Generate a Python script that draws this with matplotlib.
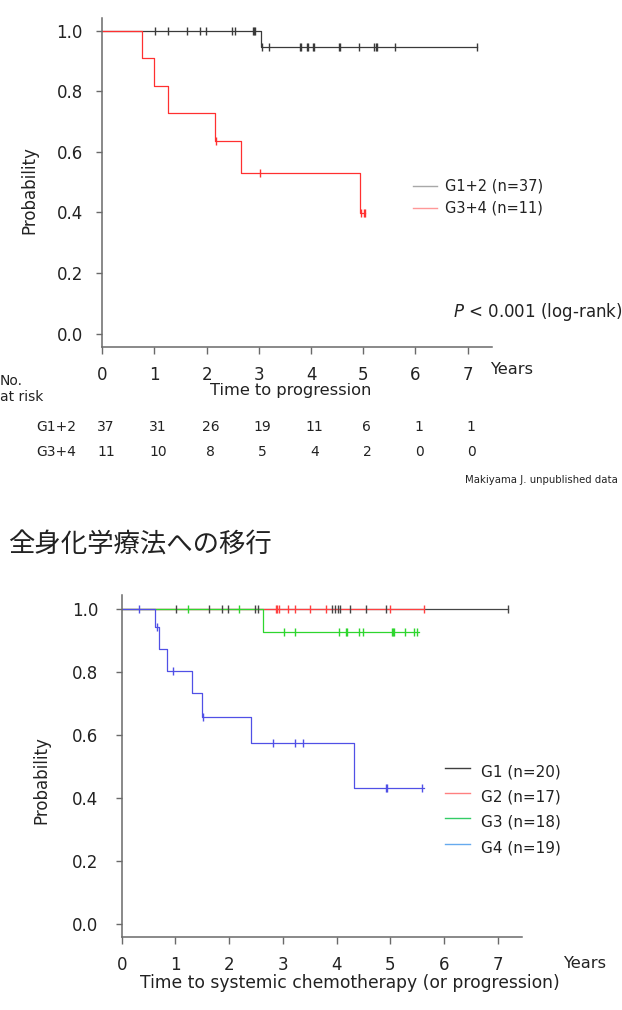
import numpy as np
import matplotlib
matplotlib.use("Agg")
import matplotlib.pyplot as plt
from matplotlib.lines import Line2D
from matplotlib.transforms import blended_transform_factory

plt.rcParams["font.family"] = ["DejaVu Sans", "Noto Sans CJK JP"]

W, H = 622, 1010

# ---------------- top panel data ----------------
top_years = [0, 1, 2, 3, 4, 5, 6, 7]
top_yticks = [0.0, 0.2, 0.4, 0.6, 0.8, 1.0]

g12_events = [3.05]
g12_levels = [0.945]
g12_end = 7.17
g12_censor = [1.01, 1.25, 1.63, 1.87, 1.99, 2.48, 2.54, 2.88, 2.90, 2.92,
              3.06, 3.19, 3.79, 3.81, 3.93, 3.95, 4.03, 4.06, 4.54, 4.55,
              4.92, 5.21, 5.24, 5.26, 5.61, 7.17]

g34_events = [0.77, 1.00, 1.25, 2.16, 2.66, 4.94]
g34_levels = [0.909, 0.818, 0.727, 0.636, 0.529, 0.397]
g34_end = 5.04
g34_censor = [2.18, 3.03, 4.96, 5.01, 5.04]

risk_labels = ["G1+2", "G3+4"]
risk_g12 = [37, 31, 26, 19, 11, 6, 1, 1]
risk_g34 = [11, 10, 8, 5, 4, 2, 0, 0]

top_legend = ["G1+2 (n=37)", "G3+4 (n=11)"]

# ---------------- bottom panel data ----------------
g1_events = []
g1_levels = []
g1_end = 7.19
g1_censor = [1.01, 1.63, 1.86, 1.98, 2.48, 2.53, 3.92, 3.97, 4.02, 4.07,
             4.25, 4.55, 4.92, 7.19]

g2_events = []
g2_levels = []
g2_end = 5.62
g2_censor = [2.88, 2.90, 2.92, 3.10, 3.22, 3.51, 3.80, 5.00, 5.62]

g3_events = [2.64]
g3_levels = [0.927]
g3_end = 5.54
g3_censor = [1.24, 2.19, 3.02, 3.22, 4.05, 4.18, 4.20, 4.41, 4.50, 5.03,
             5.05, 5.07, 5.27, 5.45, 5.49]

g4_events = [0.62, 0.69, 0.85, 1.30, 1.50, 2.40, 4.33]
g4_levels = [0.94, 0.871, 0.803, 0.732, 0.657, 0.575, 0.431]
g4_end = 5.62
g4_censor = [0.33, 0.65, 0.95, 1.52, 2.81, 3.23, 3.38, 4.92, 4.94, 5.60]

bottom_legend = ["G1 (n=20)", "G2 (n=17)", "G3 (n=18)", "G4 (n=19)"]


def fx(x):
    return x / W


def fy(y):
    return 1 - y / H


def km(ax, events, levels, end, censor, color):
    t = [0] + list(events) + [end]
    s = [1.0] + list(levels) + [levels[-1] if levels else 1.0]
    ax.step(t, s, where="post", color=color, linewidth=0.9, zorder=2)
    steps = np.array([1.0] + list(levels))
    idx = np.searchsorted(np.array(events), np.array(censor), side="right")
    return censor, steps[idx]


def style_axes(ax, xlim, ylim, ypad):
    ax.set_xlim(*xlim)
    ax.set_ylim(*ylim)
    for side in ["top", "right"]:
        ax.spines[side].set_visible(False)
    for side in ["left", "bottom"]:
        ax.spines[side].set_color("#6a6a6a")
        ax.spines[side].set_linewidth(1.1)
    ax.set_xticks(top_years)
    ax.set_yticks(top_yticks)
    ax.set_yticklabels([f"{v:.1f}" for v in top_yticks])
    ax.tick_params(axis="x", length=5, width=1, color="#6a6a6a",
                   labelsize=12, pad=9, labelcolor="#222222")
    ax.tick_params(axis="y", length=4, width=1, color="#6a6a6a",
                   labelsize=12, pad=ypad, labelcolor="#222222")


fig = plt.figure(figsize=(W / 100, H / 100), dpi=100)

# ---------------- top panel ----------------
l, r, t, b = 102.3, 492, 18.3, 347
ax1 = fig.add_axes([fx(l), fy(b), (r - l) / W, (b - t) / H])
style_axes(ax1, (0, 7.466), (-0.044, 1.041), 10)

cx, cy = km(ax1, g12_events, g12_levels, g12_end, g12_censor, "#3a3a3a")
ax1.plot(cx, cy, "|", color="#3a3a3a", markersize=6, markeredgewidth=1, zorder=3)
cx, cy = km(ax1, g34_events, g34_levels, g34_end, g34_censor, "#ff3030")
ax1.plot(cx, cy, "|", color="#ff3030", markersize=6, markeredgewidth=1, zorder=3)

ax1.set_ylabel("Probability", fontsize=12, color="#222222")
ax1.yaxis.set_label_coords((38 - l) / (r - l), (b - 190) / (b - t))

fig.text(fx(490), fy(370), "Years", fontsize=11.7, va="center", ha="left", color="#222222")
fig.text(fx(291), fy(390), "Time to progression", fontsize=11.7, va="center",
         ha="center", color="#222222")

for i, (txt, c) in enumerate(zip(top_legend, ["#a8a8a8", "#ff9898"])):
    yy = 185.7 + i * 22.6
    fig.add_artist(Line2D([fx(413), fx(437)], [fy(yy), fy(yy)], color=c,
                          linewidth=1, transform=fig.transFigure))
    fig.text(fx(445), fy(yy), txt, fontsize=10.5, va="center", ha="left",
             color="#222222")

fig.text(fx(453), fy(312), r"$P$ < 0.001 (log-rank)", fontsize=12,
         va="center", ha="left", color="#222222")

fig.text(fx(0), fy(380.7), "No.", fontsize=10, va="center", ha="left", color="#222222")
fig.text(fx(0), fy(397.3), "at risk", fontsize=10, va="center", ha="left", color="#222222")

tr = blended_transform_factory(ax1.transData, fig.transFigure)
for row, (lab, vals) in enumerate(zip(risk_labels, [risk_g12, risk_g34])):
    yy = 427.3 + row * 24.4
    fig.text(fx(36), fy(yy), lab, fontsize=10, va="center", ha="left", color="#222222")
    for yr, v in zip(top_years, vals):
        ax1.text(yr + 0.07, fy(yy), str(v), transform=tr, fontsize=10,
                 va="center", ha="center", color="#222222", clip_on=False)

fig.text(fx(618), fy(480), "Makiyama J. unpublished data", fontsize=7.3,
         va="center", ha="right", color="#222222")

fig.text(fx(8), fy(545), "全身化学療法への移行", fontsize=19,
         family=["Noto Sans CJK JP"], va="center", ha="left", color="#222222")

# ---------------- bottom panel ----------------
l, r, t, b = 121.7, 521.8, 595, 936.7
ax2 = fig.add_axes([fx(l), fy(b), (r - l) / W, (b - t) / H])
style_axes(ax2, (0, 7.45), (-0.040, 1.043), 13)

marks = []
for ev, lv, end, cen, col in [
    (g1_events, g1_levels, g1_end, g1_censor, "#454545"),
    (g2_events, g2_levels, g2_end, g2_censor, "#ff4040"),
    (g3_events, g3_levels, g3_end, g3_censor, "#2ed62e"),
    (g4_events, g4_levels, g4_end, g4_censor, "#5050e6"),
]:
    cx, cy = km(ax2, ev, lv, end, cen, col)
    marks.append((cx, cy, col))
for cx, cy, col in marks:
    ax2.plot(cx, cy, "|", color=col, markersize=6, markeredgewidth=1, zorder=3)

ax2.set_ylabel("Probability", fontsize=12, color="#222222")
ax2.yaxis.set_label_coords((50 - l) / (r - l), (b - 780) / (b - t))

fig.text(fx(563), fy(963), "Years", fontsize=11.7, va="center", ha="left", color="#222222")
fig.text(fx(350), fy(983), "Time to systemic chemotherapy (or progression)",
         fontsize=12.3, va="center", ha="center", color="#222222")

leg_colors = ["#404040", "#ff8080", "#33cc66", "#66aaee"]
for i, (txt, c) in enumerate(zip(bottom_legend, leg_colors)):
    yy = 771.7 + i * 25.3
    fig.add_artist(Line2D([fx(445), fx(470)], [fy(yy - 4), fy(yy - 4)], color=c,
                          linewidth=1, transform=fig.transFigure))
    fig.text(fx(481), fy(yy), txt, fontsize=11, va="center", ha="left",
             color="#222222")

fig.savefig("out.png", dpi=100)
plt.close(fig)
